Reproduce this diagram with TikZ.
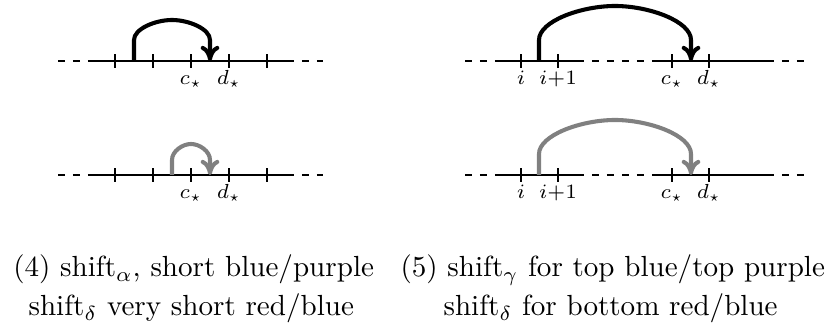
\documentclass[tikz,border=0pt]{standalone}
\usetikzlibrary{arrows.meta,calc}
\definecolor{arrgray}{RGB}{128,128,128}
\begin{document}
\begin{tikzpicture}[x=0.3436pt,y=-0.3436pt,
  axis/.style={line width=0.7pt},
  dashaxis/.style={line width=0.7pt, dash pattern=on 2.4pt off 2.75pt},
  tickmark/.style={line width=0.95pt},
  jump/.style={line width=1.4pt, -{Computer Modern Rightarrow[length=5.2pt,width=6.4pt]}},
  lab/.style={anchor=base, inner sep=0pt, font=\scriptsize},
  captext/.style={anchor=base west, inner sep=0pt}]
\useasboundingbox (0,0) rectangle (825,330);

% ---------- left panel ----------
\foreach \r/\y in {t/61,b/175}{
  \coordinate (L\r a) at (58,\y);
  \coordinate (L\r b) at (95,\y);
  \coordinate (L\r c) at (287,\y);
  \coordinate (L\r d) at (323,\y);
  \draw[dashaxis] (L\r a) -- (L\r b);
  \draw[axis] (L\r b) -- (L\r c);
  \draw[dashaxis] (L\r c) -- (L\r d);
  \foreach \n/\x in {1/115,2/153,3/191,4/229,5/267}{
    \coordinate (L\r T\n) at (\x,\y);
    \draw[tickmark] ([yshift=2.4pt]L\r T\n) -- ([yshift=-2.4pt]L\r T\n);
  }
}
\node[lab] (Ltc) at (191,85) {$c_\star$};
\node[lab] (Ltd) at (229,85) {$d_\star$};
\node[lab] (Lbc) at (191,199) {$c_\star$};
\node[lab] (Lbd) at (229,199) {$d_\star$};

\coordinate (LtS) at (134,61);
\coordinate (LtE) at (210,61);
\draw[jump] (LtS) -- ++(0,-21)
  .. controls ($(LtS)+(0,-32)$) and ($(LtS)+(21,-41)$) .. ($(LtS)+(38,-41)$)
  .. controls ($(LtE)+(-21,-41)$) and ($(LtE)+(0,-32)$) .. ($(LtE)+(0,-21)$) -- (LtE);

\coordinate (LbS) at (172,175);
\coordinate (LbE) at (210,175);
\draw[jump, arrgray] (LbS) -- ++(0,-15)
  .. controls ($(LbS)+(0,-23.8)$) and ($(LbS)+(10.5,-31)$) .. ($(LbS)+(19,-31)$)
  .. controls ($(LbE)+(-10.5,-31)$) and ($(LbE)+(0,-23.8)$) .. ($(LbE)+(0,-15)$) -- (LbE);

% ---------- right panel ----------
\foreach \r/\y in {t/61,b/175}{
  \coordinate (R\r a) at (465,\y);
  \coordinate (R\r b) at (500,\y);
  \coordinate (R\r c) at (577,\y);
  \coordinate (R\r d) at (653,\y);
  \coordinate (R\r e) at (767,\y);
  \coordinate (R\r f) at (804,\y);
  \draw[dashaxis] (R\r a) -- (R\r b);
  \draw[axis] (R\r b) -- (R\r c);
  \draw[dashaxis] (R\r c) -- (R\r d);
  \draw[axis] (R\r d) -- (R\r e);
  \draw[dashaxis] (R\r e) -- (R\r f);
  \foreach \n/\x in {1/521,2/558,3/672,4/709}{
    \coordinate (R\r T\n) at (\x,\y);
    \draw[tickmark] ([yshift=2.4pt]R\r T\n) -- ([yshift=-2.4pt]R\r T\n);
  }
}
\node[lab] (Rti) at (521,85) {$i$};
\node[lab] (Rtj) at (558,85) {$i{+}1$};
\node[lab] (Rtc) at (672,85) {$c_\star$};
\node[lab] (Rtd) at (709,85) {$d_\star$};
\node[lab] (Rbi) at (521,199) {$i$};
\node[lab] (Rbj) at (558,199) {$i{+}1$};
\node[lab] (Rbc) at (672,199) {$c_\star$};
\node[lab] (Rbd) at (709,199) {$d_\star$};

\coordinate (RtS) at (539,61);
\coordinate (RtE) at (691,61);
\draw[jump] (RtS) -- ++(0,-21)
  .. controls ($(RtS)+(0,-39.8)$) and ($(RtS)+(42,-55)$) .. ($(RtS)+(76,-55)$)
  .. controls ($(RtE)+(-42,-55)$) and ($(RtE)+(0,-39.8)$) .. ($(RtE)+(0,-21)$) -- (RtE);

\coordinate (RbS) at (539,175);
\coordinate (RbE) at (691,175);
\draw[jump, arrgray] (RbS) -- ++(0,-21)
  .. controls ($(RbS)+(0,-39.8)$) and ($(RbS)+(42,-55)$) .. ($(RbS)+(76,-55)$)
  .. controls ($(RbE)+(-42,-55)$) and ($(RbE)+(0,-39.8)$) .. ($(RbE)+(0,-21)$) -- (RbE);

% ---------- captions ----------
\node[captext] (c1a) at (12.7,277) {(4) shift$_\alpha$, short blue/purple};
\node[captext] (c1b) at (28,316) {shift$_\delta$ very short red/blue};
\node[captext] (c2a) at (400,277) {(5) shift$_\gamma$ for top blue/top purple};
\node[captext] (c2b) at (443,316) {shift$_\delta$ for bottom red/blue};
\end{tikzpicture}
\end{document}
